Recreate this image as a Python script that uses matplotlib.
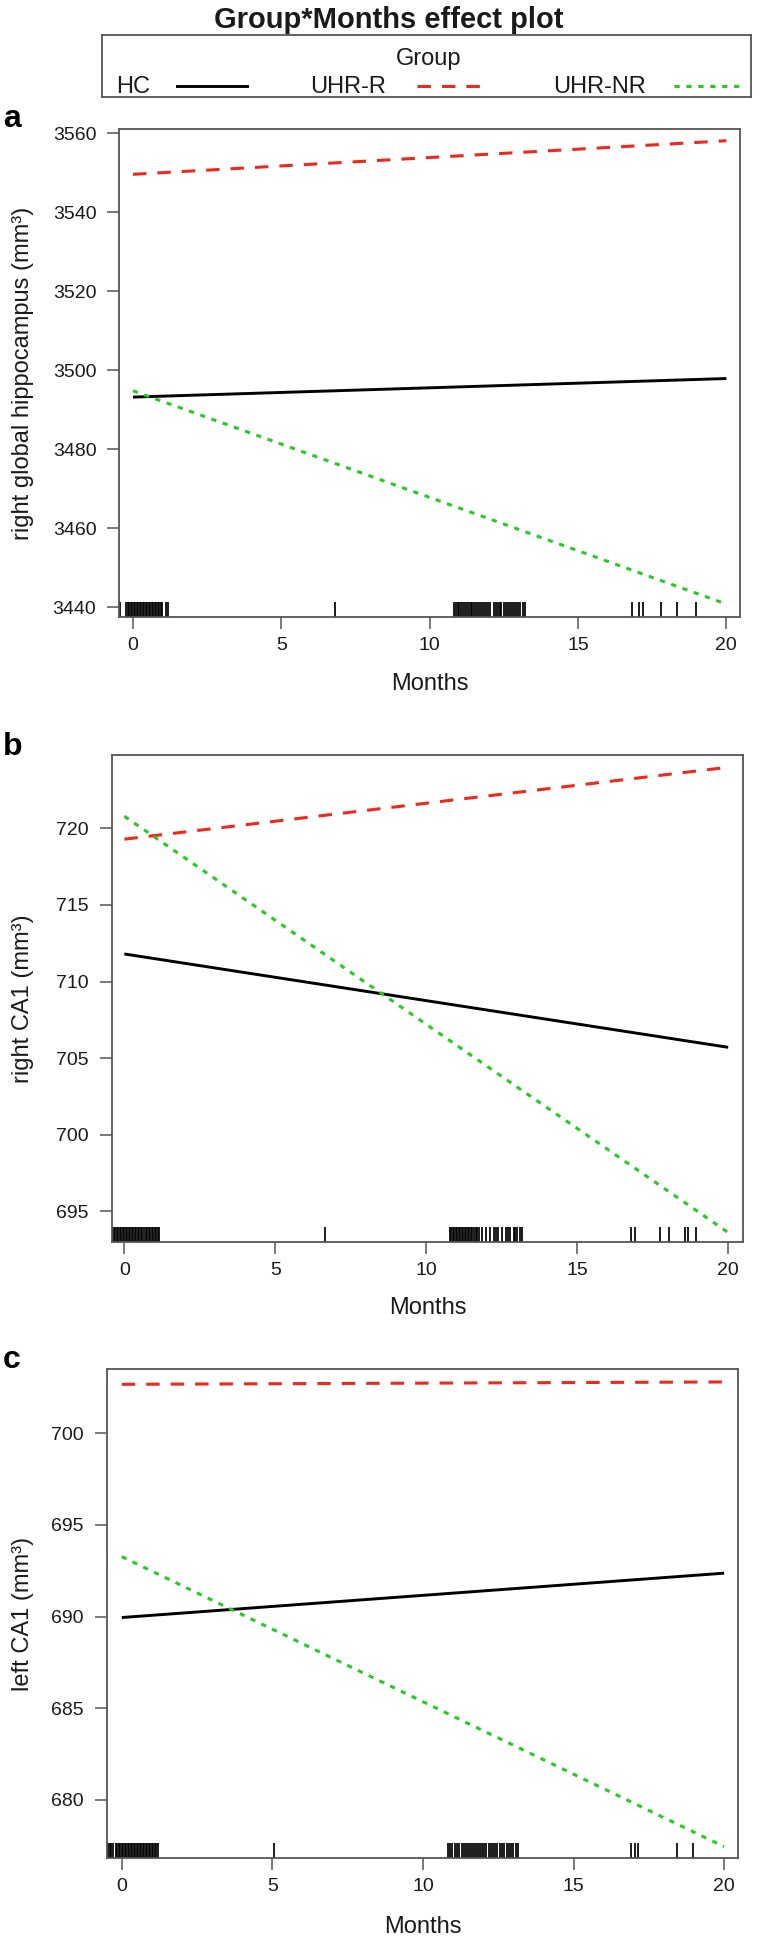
import matplotlib
matplotlib.use('Agg')
import matplotlib.pyplot as plt
from matplotlib.transforms import blended_transform_factory

plt.rcParams['font.family'] = ['Liberation Sans', 'DejaVu Sans']

# ---------------- data ----------------
groups = ['HC', 'UHR-R', 'UHR-NR']
months = [0, 20]
x_ticks = [0, 5, 10, 15, 20]

# panel a: right global hippocampus (line values at month 0 and 20)
a_hc = [3493.2, 3497.9]
a_uhr_r = [3549.6, 3558.1]
a_uhr_nr = [3494.8, 3440.8]
a_yticks = [3440, 3460, 3480, 3500, 3520, 3540, 3560]
a_ylim = [3437.6, 3561.0]

# panel b: right CA1
b_hc = [711.8, 705.7]
b_uhr_r = [719.3, 724.0]
b_uhr_nr = [720.8, 693.6]
b_yticks = [695, 700, 705, 710, 715, 720]
b_ylim = [693.0, 724.8]

# panel c: left CA1
c_hc = [689.95, 692.37]
c_uhr_r = [702.67, 702.8]
c_uhr_nr = [693.27, 677.45]
c_yticks = [680, 685, 690, 695, 700]
c_ylim = [676.85, 703.49]

# rug (observed months)
rug_a = [-0.43, -0.22, -0.17, -0.12, -0.07, -0.02, 0.03, 0.08, 0.13, 0.18, 0.23,
         0.28, 0.33, 0.38, 0.43, 0.48, 0.53, 0.58, 0.63, 0.68, 0.73, 0.78, 0.83,
         0.88, 0.93, 0.97, 1.1, 1.18, 6.8,
         10.83, 10.88, 10.94, 11.0, 11.05, 11.12, 11.18, 11.25, 11.31, 11.38,
         11.44, 11.5, 11.57, 11.63, 11.7, 11.76, 11.83, 11.9, 11.96, 12.02,
         12.16, 12.22, 12.29, 12.36, 12.42, 12.5, 12.56, 12.63, 12.7, 12.78,
         12.85, 12.92, 12.99, 13.06, 13.13, 13.2,
         16.82, 17.07, 17.2, 17.8, 18.35, 18.98]
rug_b = [-0.4, -0.35, -0.3, -0.25, -0.2, -0.15, -0.1, -0.05, 0.0, 0.05, 0.1,
         0.15, 0.2, 0.25, 0.3, 0.35, 0.4, 0.45, 0.5, 0.55, 0.6, 0.65, 0.7, 0.75,
         0.8, 0.85, 0.9, 0.95, 1.0, 1.05, 1.1, 1.16, 6.65,
         10.78, 10.83, 10.88, 10.93, 10.98, 11.03, 11.08, 11.13, 11.18, 11.23,
         11.28, 11.33, 11.38, 11.43, 11.48, 11.53, 11.58, 11.63, 11.68, 11.74,
         11.86, 11.99, 12.12, 12.24, 12.3, 12.37, 12.5, 12.63, 12.7, 12.76,
         12.89, 12.95, 13.02, 13.09, 13.16,
         16.78, 16.9, 17.73, 18.05, 18.58, 18.66, 18.92]
rug_c = [-0.45, -0.4, -0.35, -0.3, -0.2, -0.15, -0.1, -0.05, 0.0, 0.05, 0.1,
         0.15, 0.2, 0.25, 0.3, 0.35, 0.4, 0.45, 0.5, 0.55, 0.6, 0.65, 0.7, 0.75,
         0.8, 0.85, 0.9, 0.95, 1.0, 1.05, 1.1, 1.15, 1.21, 5.07,
         10.82, 10.9, 10.98, 11.05, 11.12, 11.2, 11.28, 11.35, 11.42, 11.5,
         11.56, 11.62, 11.68, 11.75, 11.82, 11.9, 11.97, 12.04, 12.1, 12.18,
         12.25, 12.32, 12.4, 12.47, 12.55, 12.62, 12.7, 12.78, 12.86, 12.93,
         13.0, 13.08, 13.17,
         16.9, 17.04, 17.15, 18.45, 18.95]

# ---------------- styling ----------------
W, H = 760, 1936
styles = {
    'HC': dict(color='black', lw=2.1, linestyle='-'),
    'UHR-R': dict(color='#f0281c', lw=2.2, linestyle=(0, (4.4, 3.6))),
    'UHR-NR': dict(color='#22cc22', lw=2.2, linestyle=(0, (1.7, 2.2))),
}
text_color = '#1a1a1a'
spine_color = '#555555'

fig = plt.figure(figsize=(W / 100, H / 100), dpi=100)


def rect(left, right, top, bottom):
    return [left / W, 1 - bottom / H, (right - left) / W, (bottom - top) / H]


panels = [
    dict(letter='a', letter_base=127, ylabel='right global hippocampus (mm³)',
         box=(119.3, 740.0, 129.3, 616.7), xlim=(-0.46, 20.46),
         series=[a_hc, a_uhr_r, a_uhr_nr], yticks=a_yticks, ylim=a_ylim, rug=rug_a,
         xlab_off=67),
    dict(letter='b', letter_base=755, ylabel='right CA1 (mm³)',
         box=(111.7, 743.3, 755.0, 1241.7), xlim=(-0.42, 20.5),
         series=[b_hc, b_uhr_r, b_uhr_nr], yticks=b_yticks, ylim=b_ylim, rug=rug_b,
         xlab_off=66),
    dict(letter='c', letter_base=1368, ylabel='left CA1 (mm³)',
         box=(106.7, 738.3, 1369.3, 1857.7), xlim=(-0.5, 20.47),
         series=[c_hc, c_uhr_r, c_uhr_nr], yticks=c_yticks, ylim=c_ylim, rug=rug_c,
         xlab_off=69),
]

for p in panels:
    l, r, t, b = p['box']
    ax = fig.add_axes(rect(l, r, t, b))
    h_px = b - t
    for g, vals in zip(groups, p['series']):
        ax.plot(months, vals, **styles[g], solid_capstyle='butt', dash_capstyle='butt')
    ax.vlines(p['rug'], 0, 15 / h_px, transform=ax.get_xaxis_transform(),
              colors='black', lw=1.25)
    ax.set_xlim(*p['xlim'])
    ax.set_ylim(*p['ylim'])
    ax.set_xticks(x_ticks)
    ax.set_yticks(p['yticks'])
    for s in ax.spines.values():
        s.set_color(spine_color)
        s.set_linewidth(1.3)
    ax.tick_params(axis='both', direction='out', length=8.5, width=1.1,
                   color=spine_color, labelsize=14, labelcolor=text_color)
    ax.tick_params(axis='y', pad=8)
    ax.tick_params(axis='x', pad=6)
    ax.set_xlabel('Months', fontsize=17, color=text_color)
    ax.xaxis.set_label_coords(0.5, -p['xlab_off'] / h_px)
    ax.xaxis.label.set_va('center')
    ax.set_ylabel(p['ylabel'], fontsize=17, color=text_color)
    ax.yaxis.set_label_coords(23 / W, 0.5,
                              transform=blended_transform_factory(fig.transFigure, ax.transAxes))
    ax.yaxis.label.set_va('center')
    ax.yaxis.label.set_ha('center')
    fig.text(3 / W, 1 - p['letter_base'] / H, p['letter'], fontsize=23,
             weight='bold', ha='left', va='baseline', color='black')

# title
fig.text(389 / W, 1 - 28.3 / H, 'Group*Months effect plot', fontsize=21,
         weight='bold', ha='center', va='baseline', color=text_color)

# legend box (drawn in pixel-like coordinates of its own axes)
lx0, lx1, ly0, ly1 = 101.8, 751.0, 35.0, 96.7
lax = fig.add_axes(rect(lx0, lx1, ly0, ly1))
lax.set_xlim(lx0, lx1)
lax.set_ylim(ly1, ly0)
lax.set_xticks([])
lax.set_yticks([])
for s in lax.spines.values():
    s.set_color(spine_color)
    s.set_linewidth(1.3)
lax.text(429, 65, 'Group', fontsize=17, ha='center', va='baseline', color=text_color)
entries = [('HC', 116, (177, 247)), ('UHR-R', 310, (417, 480)), ('UHR-NR', 553, (674, 742))]
for g, tx, (x0, x1) in entries:
    lax.text(tx, 93.3, g, fontsize=17, ha='left', va='baseline', color=text_color)
    lax.plot([x0, x1], [86, 86], **styles[g], dash_capstyle='butt')

fig.savefig('out.png', dpi=100)
